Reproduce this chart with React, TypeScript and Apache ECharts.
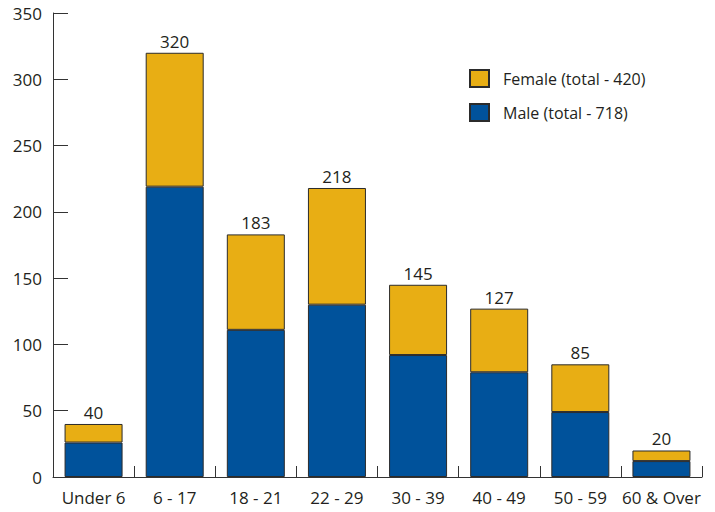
import React, { useEffect, useRef } from "react";
import * as echarts from "echarts";

const ageGroups = ["Under 6", "6 - 17", "18 - 21", "22 - 29", "30 - 39", "40 - 49", "50 - 59", "60 & Over"];
const totalCounts = [40, 320, 183, 218, 145, 127, 85, 20];
const maleCounts = [26, 219, 111, 130, 92, 79, 49, 12];
const femaleCounts = totalCounts.map((t, i) => t - maleCounts[i]);
const yTicks = [0, 50, 100, 150, 200, 250, 300, 350];

const sum = (a: number[]) => a.reduce((s, v) => s + v, 0);
const femaleName = `Female (total - ${sum(femaleCounts)})`;
const maleName = `Male (total - ${sum(maleCounts)})`;

const FONT = "'Open Sans', 'Noto Sans', sans-serif";
const TEXT = "#231f20";
const BLUE = "#00529b";
const GOLD = "#e8ae14";

export default function App() {
  const ref = useRef<HTMLDivElement>(null);

  useEffect(() => {
    if (!ref.current) return;
    const chart = echarts.init(ref.current, undefined, { renderer: "svg" });
    chart.setOption({
      animation: false,
      backgroundColor: "#ffffff",
      textStyle: { fontFamily: FONT },
      grid: { left: 53, right: 13, top: 13, bottom: 35, containLabel: false },
      legend: {
        orient: "vertical",
        left: 469,
        top: 69,
        padding: 0,
        itemWidth: 19,
        itemHeight: 17,
        itemGap: 15,
        icon: "rect",
        data: [femaleName, maleName],
        textStyle: { fontFamily: FONT, fontSize: 16, color: TEXT, padding: [0, 0, 0, 9] },
      },
      xAxis: {
        type: "category",
        data: ageGroups,
        axisLine: { lineStyle: { color: "#333", width: 1 } },
        axisTick: { show: true, inside: true, length: 11, lineStyle: { color: "#333" } },
        axisLabel: { fontFamily: FONT, fontSize: 17, color: TEXT, margin: 12, interval: 0 },
      },
      yAxis: {
        type: "value",
        min: yTicks[0],
        max: yTicks[yTicks.length - 1],
        interval: 50,
        splitLine: { show: false },
        axisLine: { show: true, lineStyle: { color: "#333", width: 1 } },
        axisTick: { show: true, inside: true, length: 15, lineStyle: { color: "#333" } },
        axisLabel: { fontFamily: FONT, fontSize: 17, color: TEXT, margin: 11 },
      },
      series: [
        {
          name: maleName,
          type: "bar",
          stack: "all",
          barWidth: 58,
          data: maleCounts,
          itemStyle: { color: BLUE, borderColor: "#2b2b2b", borderWidth: 1 },
        },
        {
          name: femaleName,
          type: "bar",
          stack: "all",
          barWidth: 58,
          data: femaleCounts,
          itemStyle: { color: GOLD, borderColor: "#2b2b2b", borderWidth: 1 },
          label: {
            show: true,
            position: "top",
            distance: 3,
            fontFamily: FONT,
            fontSize: 17,
            color: TEXT,
            formatter: (p: any) => String(totalCounts[p.dataIndex]),
          },
        },
      ],
    });
    return () => chart.dispose();
  }, []);

  return (
    <div
      ref={ref}
      style={{ position: "absolute", left: 0, top: 0, width: 715, height: 512 }}
    />
  );
}
